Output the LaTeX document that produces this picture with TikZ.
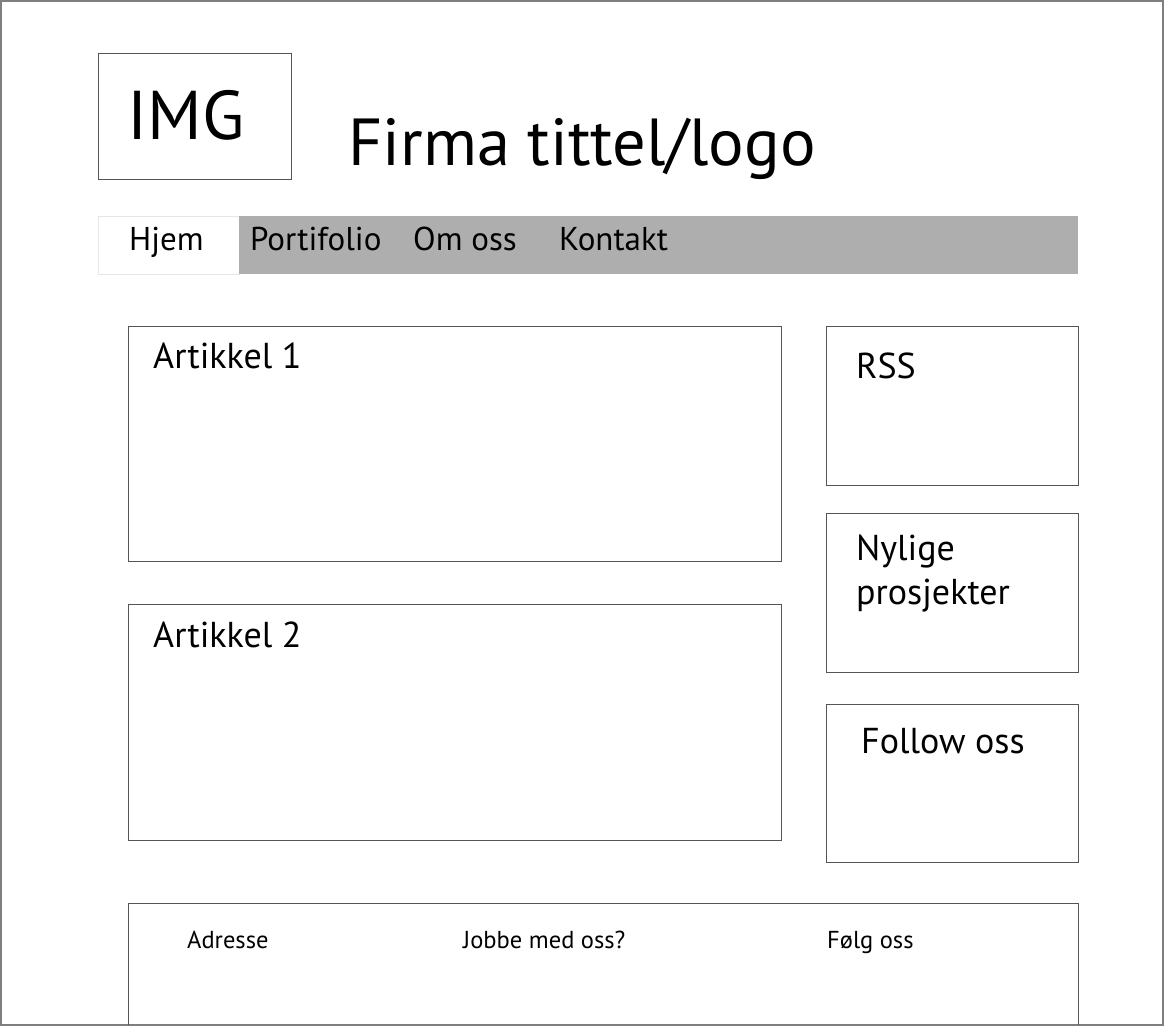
\documentclass[tikz,border=0pt]{standalone}
\usepackage{fontspec}
\setmainfont{PT Sans}
\definecolor{navgray}{HTML}{AEAEAE}
\definecolor{edge}{HTML}{555555}
\definecolor{frame}{HTML}{7F7F7F}
\definecolor{tabedge}{HTML}{E6E6E6}
\begin{document}
\begin{tikzpicture}[x=1pt,y=-1pt,
  box/.style={draw=edge,line width=1pt,fill=white,anchor=north west,inner sep=0pt},
  lbl/.style={anchor=base west,inner sep=0pt,font=\fontsize{36}{40}\selectfont},
  navlbl/.style={anchor=base west,inner sep=0pt,font=\fontsize{33}{36}\selectfont},
  footlbl/.style={anchor=base west,inner sep=0pt,font=\fontsize{24.5}{28}\selectfont}]
% page frame
\path[use as bounding box] (0,0) rectangle (1164,1026);
\draw[frame,line width=1.2pt] (1,1) rectangle (1163,1025);
% header
\node[box,minimum width=193pt,minimum height=126pt] (img) at (98,53) {};
\node[anchor=base,inner sep=0pt,font=\fontsize{69}{72}\selectfont] (imgtxt) at (186,139) {IMG};
\node[anchor=base west,inner sep=0pt,font=\fontsize{66.5}{72}\selectfont] (title) at (348,165) {Firma tittel/logo};
% navigation bar
\node[draw=tabedge,line width=1pt,fill=white,anchor=north west,minimum width=141pt,minimum height=58pt,inner sep=0pt] (tab) at (98,216) {};
\node[fill=navgray,anchor=north west,minimum width=839pt,minimum height=58pt,inner sep=0pt] (nav) at (239,216) {};
\node[navlbl] (hjem) at (129,250) {Hjem};
\node[navlbl] (port) at (250,250) {Portifolio};
\node[navlbl] (om) at (413,250) {Om oss};
\node[navlbl] (kontakt) at (559,250) {Kontakt};
% articles
\node[box,minimum width=653pt,minimum height=235pt] (art1) at (128,326) {};
\node[lbl] (art1txt) at (153,368) {Artikkel 1};
\node[box,minimum width=653pt,minimum height=236pt] (art2) at (128,604) {};
\node[lbl] (art2txt) at (153,647) {Artikkel 2};
% sidebar
\node[box,minimum width=252pt,minimum height=159pt] (rss) at (826,326) {};
\node[lbl] (rsstxt) at (856,378) {RSS};
\node[box,minimum width=252pt,minimum height=159pt] (nyl) at (826,513) {};
\node[lbl] (nyltxt1) at (856,560) {Nylige};
\node[lbl] (nyltxt2) at (856,604) {prosjekter};
\node[box,minimum width=252pt,minimum height=158pt] (fol) at (826,704) {};
\node[lbl] (foltxt) at (861,753) {Follow oss};
% footer, running off the bottom edge
\draw[edge,line width=1pt] (128,1025) -- (128,903) -- (1078,903) -- (1078,1025);
\coordinate (foot) at (128,903);
\node[footlbl] (adr) at (187,948) {Adresse};
\node[footlbl] (jobb) at (463,948) {Jobbe med oss?};
\node[footlbl] (folg) at (827,948) {Følg oss};
\end{tikzpicture}
\end{document}
